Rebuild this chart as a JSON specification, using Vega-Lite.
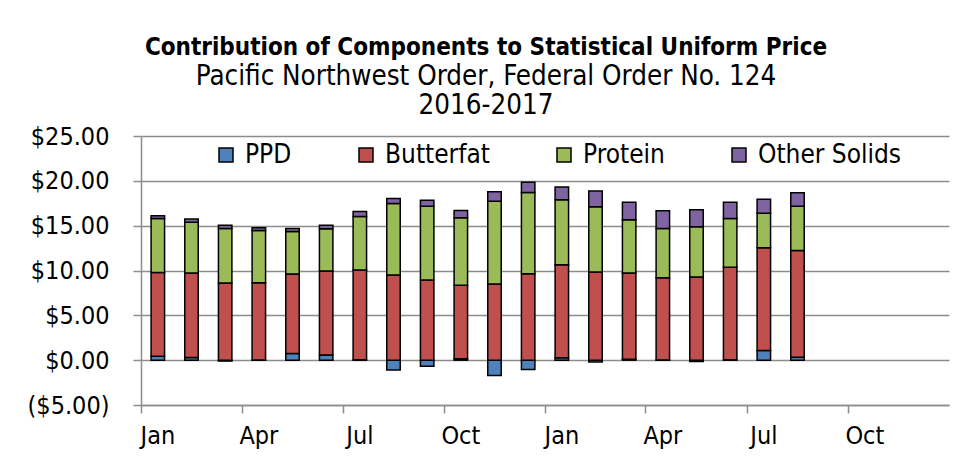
{
  "$schema": "https://vega.github.io/schema/vega-lite/v6.json",
  "width": 808,
  "height": 269,
  "autosize": {"type": "none"},
  "padding": {"left": 141, "top": 136, "right": 21, "bottom": 58},
  "background": "white",
  "config": {
    "font": "DejaVu Sans Condensed",
    "view": {"stroke": null}
  },
  "title": {
    "text": "Contribution of Components to Statistical Uniform Price",
    "subtitle": ["Pacific Northwest Order, Federal Order No. 124", "2016-2017"],
    "font": "DejaVu Sans Condensed",
    "subtitleFont": "DejaVu Sans Condensed",
    "fontSize": 24,
    "fontWeight": "bold",
    "subtitleFontSize": 27.5,
    "subtitleFontWeight": "normal",
    "subtitleLineHeight": 29,
    "subtitlePadding": 3,
    "color": "black",
    "subtitleColor": "black",
    "anchor": "middle",
    "frame": "group",
    "dx": -59,
    "offset": 5
  },
  "data": {
    "values": [
      {"month": "Jan 2016", "component": "PPD", "value": 0.45},
      {"month": "Jan 2016", "component": "Butterfat", "value": 9.34},
      {"month": "Jan 2016", "component": "Protein", "value": 6.01},
      {"month": "Jan 2016", "component": "Other Solids", "value": 0.30},
      {"month": "Feb 2016", "component": "PPD", "value": 0.30},
      {"month": "Feb 2016", "component": "Butterfat", "value": 9.42},
      {"month": "Feb 2016", "component": "Protein", "value": 5.67},
      {"month": "Feb 2016", "component": "Other Solids", "value": 0.34},
      {"month": "Mar 2016", "component": "PPD", "value": -0.10},
      {"month": "Mar 2016", "component": "Butterfat", "value": 8.61},
      {"month": "Mar 2016", "component": "Protein", "value": 6.08},
      {"month": "Mar 2016", "component": "Other Solids", "value": 0.37},
      {"month": "Apr 2016", "component": "PPD", "value": 0.02},
      {"month": "Apr 2016", "component": "Butterfat", "value": 8.62},
      {"month": "Apr 2016", "component": "Protein", "value": 5.83},
      {"month": "Apr 2016", "component": "Other Solids", "value": 0.29},
      {"month": "May 2016", "component": "PPD", "value": 0.74},
      {"month": "May 2016", "component": "Butterfat", "value": 8.87},
      {"month": "May 2016", "component": "Protein", "value": 4.74},
      {"month": "May 2016", "component": "Other Solids", "value": 0.34},
      {"month": "Jun 2016", "component": "PPD", "value": 0.59},
      {"month": "Jun 2016", "component": "Butterfat", "value": 9.35},
      {"month": "Jun 2016", "component": "Protein", "value": 4.71},
      {"month": "Jun 2016", "component": "Other Solids", "value": 0.41},
      {"month": "Jul 2016", "component": "PPD", "value": 0.05},
      {"month": "Jul 2016", "component": "Butterfat", "value": 10.00},
      {"month": "Jul 2016", "component": "Protein", "value": 5.97},
      {"month": "Jul 2016", "component": "Other Solids", "value": 0.56},
      {"month": "Aug 2016", "component": "PPD", "value": -1.11},
      {"month": "Aug 2016", "component": "Butterfat", "value": 9.50},
      {"month": "Aug 2016", "component": "Protein", "value": 7.97},
      {"month": "Aug 2016", "component": "Other Solids", "value": 0.56},
      {"month": "Sep 2016", "component": "PPD", "value": -0.67},
      {"month": "Sep 2016", "component": "Butterfat", "value": 8.94},
      {"month": "Sep 2016", "component": "Protein", "value": 8.23},
      {"month": "Sep 2016", "component": "Other Solids", "value": 0.67},
      {"month": "Oct 2016", "component": "PPD", "value": 0.15},
      {"month": "Oct 2016", "component": "Butterfat", "value": 8.20},
      {"month": "Oct 2016", "component": "Protein", "value": 7.53},
      {"month": "Oct 2016", "component": "Other Solids", "value": 0.81},
      {"month": "Nov 2016", "component": "PPD", "value": -1.71},
      {"month": "Nov 2016", "component": "Butterfat", "value": 8.49},
      {"month": "Nov 2016", "component": "Protein", "value": 9.24},
      {"month": "Nov 2016", "component": "Other Solids", "value": 1.04},
      {"month": "Dec 2016", "component": "PPD", "value": -1.04},
      {"month": "Dec 2016", "component": "Butterfat", "value": 9.64},
      {"month": "Dec 2016", "component": "Protein", "value": 9.05},
      {"month": "Dec 2016", "component": "Other Solids", "value": 1.15},
      {"month": "Jan 2017", "component": "PPD", "value": 0.26},
      {"month": "Jan 2017", "component": "Butterfat", "value": 10.39},
      {"month": "Jan 2017", "component": "Protein", "value": 7.23},
      {"month": "Jan 2017", "component": "Other Solids", "value": 1.44},
      {"month": "Feb 2017", "component": "PPD", "value": -0.20},
      {"month": "Feb 2017", "component": "Butterfat", "value": 9.83},
      {"month": "Feb 2017", "component": "Protein", "value": 7.27},
      {"month": "Feb 2017", "component": "Other Solids", "value": 1.78},
      {"month": "Mar 2017", "component": "PPD", "value": 0.11},
      {"month": "Mar 2017", "component": "Butterfat", "value": 9.61},
      {"month": "Mar 2017", "component": "Protein", "value": 5.93},
      {"month": "Mar 2017", "component": "Other Solids", "value": 1.97},
      {"month": "Apr 2017", "component": "PPD", "value": 0.02},
      {"month": "Apr 2017", "component": "Butterfat", "value": 9.18},
      {"month": "Apr 2017", "component": "Protein", "value": 5.49},
      {"month": "Apr 2017", "component": "Other Solids", "value": 1.96},
      {"month": "May 2017", "component": "PPD", "value": -0.15},
      {"month": "May 2017", "component": "Butterfat", "value": 9.27},
      {"month": "May 2017", "component": "Protein", "value": 5.60},
      {"month": "May 2017", "component": "Other Solids", "value": 1.90},
      {"month": "Jun 2017", "component": "PPD", "value": 0.05},
      {"month": "Jun 2017", "component": "Butterfat", "value": 10.30},
      {"month": "Jun 2017", "component": "Protein", "value": 5.45},
      {"month": "Jun 2017", "component": "Other Solids", "value": 1.82},
      {"month": "Jul 2017", "component": "PPD", "value": 1.08},
      {"month": "Jul 2017", "component": "Butterfat", "value": 11.46},
      {"month": "Jul 2017", "component": "Protein", "value": 3.85},
      {"month": "Jul 2017", "component": "Other Solids", "value": 1.56},
      {"month": "Aug 2017", "component": "PPD", "value": 0.33},
      {"month": "Aug 2017", "component": "Butterfat", "value": 11.91},
      {"month": "Aug 2017", "component": "Protein", "value": 4.93},
      {"month": "Aug 2017", "component": "Other Solids", "value": 1.49}
    ]
  },
  "transform": [
    {"calculate": "indexof(['PPD', 'Butterfat', 'Protein', 'Other Solids'], datum.component)", "as": "stackOrder"}
  ],
  "mark": {"type": "bar", "stroke": "black", "strokeWidth": 1.5, "width": {"band": 0.4}},
  "encoding": {
    "x": {
      "field": "month",
      "type": "ordinal",
      "sort": null,
      "scale": {
        "domain": ["Jan 2016", "Feb 2016", "Mar 2016", "Apr 2016", "May 2016", "Jun 2016", "Jul 2016", "Aug 2016", "Sep 2016", "Oct 2016", "Nov 2016", "Dec 2016", "Jan 2017", "Feb 2017", "Mar 2017", "Apr 2017", "May 2017", "Jun 2017", "Jul 2017", "Aug 2017", "Sep 2017", "Oct 2017", "Nov 2017", "Dec 2017"],
        "paddingInner": 0,
        "paddingOuter": 0
      },
      "axis": {
        "title": null,
        "values": ["Jan 2016", "Apr 2016", "Jul 2016", "Oct 2016", "Jan 2017", "Apr 2017", "Jul 2017", "Oct 2017"],
        "labelExpr": "split(datum.value, ' ')[0]",
        "bandPosition": 0,
        "labelDx": 17,
        "labelAngle": 0,
        "labelAlign": "center",
        "labelFontSize": 25,
        "labelColor": "black",
        "labelPadding": 10,
        "domainColor": "#8c8c8c",
        "domainWidth": 1.5,
        "tickColor": "#8c8c8c",
        "tickWidth": 1.5,
        "tickSize": 8,
        "grid": false
      }
    },
    "y": {
      "field": "value",
      "type": "quantitative",
      "stack": "zero",
      "scale": {"domain": [-5, 25], "nice": false, "zero": false},
      "axis": {
        "title": null,
        "values": [-5, 0, 5, 10, 15, 20, 25],
        "labelExpr": "datum.value < 0 ? '($' + format(-datum.value, '.2f') + ')' : '$' + format(datum.value, '.2f')",
        "labelFontSize": 25,
        "labelColor": "black",
        "labelPadding": 24,
        "domainColor": "#8c8c8c",
        "domainWidth": 1.5,
        "tickColor": "#8c8c8c",
        "tickWidth": 1.5,
        "tickSize": 8,
        "grid": true,
        "gridColor": "#8c8c8c",
        "gridWidth": 1.5
      }
    },
    "order": {"field": "stackOrder", "type": "quantitative", "sort": "ascending"},
    "color": {
      "field": "component",
      "type": "nominal",
      "sort": ["PPD", "Butterfat", "Protein", "Other Solids"],
      "scale": {
        "domain": ["PPD", "Butterfat", "Protein", "Other Solids"],
        "range": ["#4F81BD", "#C0504D", "#9BBB59", "#8064A2"]
      },
      "legend": {
        "title": null,
        "orient": "none",
        "legendX": 72,
        "legendY": 6,
        "direction": "horizontal",
        "columnPadding": 61,
        "symbolType": "square",
        "symbolSize": 196,
        "symbolStrokeColor": "black",
        "symbolStrokeWidth": 1.5,
        "symbolOpacity": 1,
        "labelFontSize": 26,
        "labelColor": "black",
        "labelOffset": 6
      }
    }
  }
}
